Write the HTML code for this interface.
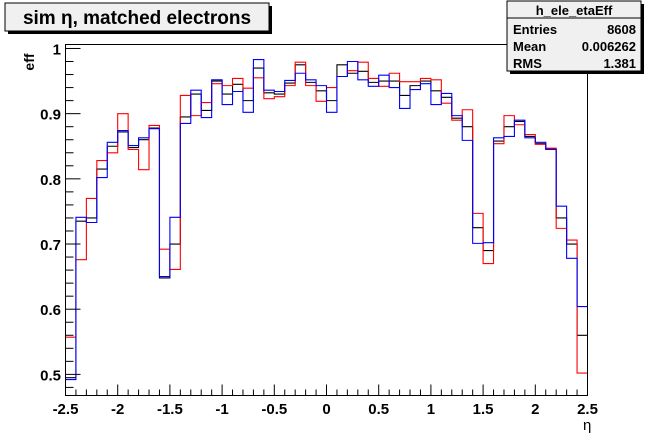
<!DOCTYPE html>
<html><head><meta charset="utf-8"><style>
body{margin:0;background:#fff;}
svg text{font-family:"Liberation Sans",Arial,sans-serif;font-weight:bold;}
</style></head><body>
<svg width="653" height="441" xmlns="http://www.w3.org/2000/svg">
<rect x="0" y="0" width="653" height="441" fill="#fff"/>
<g id="plot"></g>
<g>
<rect x="8" y="6" width="264" height="28" fill="#000"/>
<rect x="5" y="3" width="264" height="28" fill="#f0f0f0" stroke="#000" stroke-width="1"/>
<text x="137" y="24" font-size="19" text-anchor="middle">sim η,  matched electrons</text>
</g>
<g>
<rect x="510" y="4" width="134" height="70" fill="#000"/>
<rect x="507" y="1" width="134" height="70" fill="#f0f0f0" stroke="#000" stroke-width="1"/>
<line x1="507" y1="18" x2="641" y2="18" stroke="#000"/>
<text x="574" y="15" font-size="13" text-anchor="middle">h_ele_etaEff</text>
<text x="513" y="34" font-size="13">Entries</text>
<text x="636" y="34" font-size="13" text-anchor="end">8608</text>
<text x="513" y="51" font-size="13">Mean</text>
<text x="636" y="51" font-size="13" text-anchor="end">0.006262</text>
<text x="513" y="68" font-size="13">RMS</text>
<text x="636" y="68" font-size="13" text-anchor="end">1.381</text>
</g>
<text x="34" y="62" font-size="14" transform="rotate(-90 34 62)" text-anchor="middle">eff</text>
<text x="583" y="430" font-size="15" style="font-weight:normal">η</text>
</svg>
<script>
const binLow = -2.5, binWidth = 0.1;
const blueVals = [0.492,0.741,0.733,0.802,0.856,0.874,0.851,0.863,0.877,0.650,0.741,0.885,0.936,0.894,0.952,0.914,0.934,0.902,0.983,0.936,0.934,0.951,0.962,0.952,0.943,0.902,0.957,0.980,0.952,0.942,0.959,0.940,0.908,0.937,0.946,0.914,0.931,0.897,0.859,0.701,0.702,0.863,0.865,0.890,0.863,0.856,0.845,0.758,0.678,0.604];
const redVals = [0.557,0.676,0.770,0.828,0.840,0.900,0.845,0.814,0.882,0.692,0.661,0.928,0.897,0.917,0.946,0.943,0.954,0.939,0.955,0.923,0.926,0.943,0.979,0.943,0.919,0.940,0.957,0.966,0.979,0.954,0.942,0.962,0.949,0.949,0.954,0.952,0.916,0.890,0.906,0.747,0.670,0.854,0.897,0.883,0.868,0.853,0.847,0.724,0.706,0.502];
const blackVals = [0.495,0.735,0.740,0.815,0.850,0.872,0.848,0.860,0.878,0.648,0.700,0.895,0.930,0.905,0.950,0.930,0.945,0.920,0.970,0.932,0.930,0.947,0.975,0.948,0.935,0.920,0.975,0.962,0.965,0.948,0.950,0.950,0.928,0.943,0.950,0.935,0.925,0.893,0.880,0.725,0.690,0.858,0.880,0.888,0.865,0.854,0.846,0.740,0.700,0.560];
const xTicks = [-2.5,-2,-1.5,-1,-0.5,0,0.5,1,1.5,2,2.5];
const xTickLabels = ["-2.5","-2","-1.5","-1","-0.5","0","0.5","1","1.5","2","2.5"];
const yTicks = [0.5,0.6,0.7,0.8,0.9,1];
const yTickLabels = ["0.5","0.6","0.7","0.8","0.9","1"];

const X0=65.5, X1=587.5, Y0=44.5, Y1=395.5;
const xmin=-2.5,xmax=2.5, ymin=0.4676, ymax=1.0061;
const sx=v=>X0+(v-xmin)/(xmax-xmin)*(X1-X0);
const sy=v=>Y1-(v-ymin)/(ymax-ymin)*(Y1-Y0);
const NS="http://www.w3.org/2000/svg";
const g=document.getElementById('plot');
function mk(t,a){const e=document.createElementNS(NS,t);for(const k in a)e.setAttribute(k,a[k]);g.appendChild(e);return e;}

function hist(vals,color,name){
  let d='';
  vals.forEach((v,i)=>{
    const xa=sx(binLow+i*binWidth), xb=sx(binLow+(i+1)*binWidth), y=sy(v);
    d+=(i===0?'M'+xa+','+y:'L'+xa+','+y)+'L'+xb+','+y;
  });
  const p=mk('path',{d:d,fill:'none',stroke:color,'stroke-width':1.1});
  
  
}
hist(blackVals,'#000000','series-black');
hist(redVals,'#ff0000','series-red');
hist(blueVals,'#0000ff','series-blue');

const frame=mk('rect',{x:X0,y:Y0,width:X1-X0,height:Y1-Y0,fill:'none',stroke:'#000','stroke-width':1});



for(let v=-2.5;v<=2.501;v+=0.1){
  const major=Math.abs(v*2-Math.round(v*2))<1e-6;
  const t=mk('line',{x1:sx(v),x2:sx(v),y1:Y1,y2:Y1-(major?11:6),stroke:'#000'});
  
  
}
xTicks.forEach((v,i)=>{
  const t=mk('text',{x:sx(v),y:414,'font-size':15,'text-anchor':'middle'});
  t.textContent=xTickLabels[i];
  
  
});
for(let k=0;k<=26;k++){
  const v=0.48+k*0.02;
  if(v>ymax) break;
  const major=Math.abs(v*10-Math.round(v*10))<1e-6;
  const t=mk('line',{x1:X0,x2:X0+(major?15:8),y1:sy(v),y2:sy(v),stroke:'#000'});
  
  
}
yTicks.forEach((v,i)=>{
  const t=mk('text',{x:61,y:sy(v)+6,'font-size':15,'text-anchor':'end'});
  t.textContent=yTickLabels[i];
  
  
});
</script>
</body></html>
